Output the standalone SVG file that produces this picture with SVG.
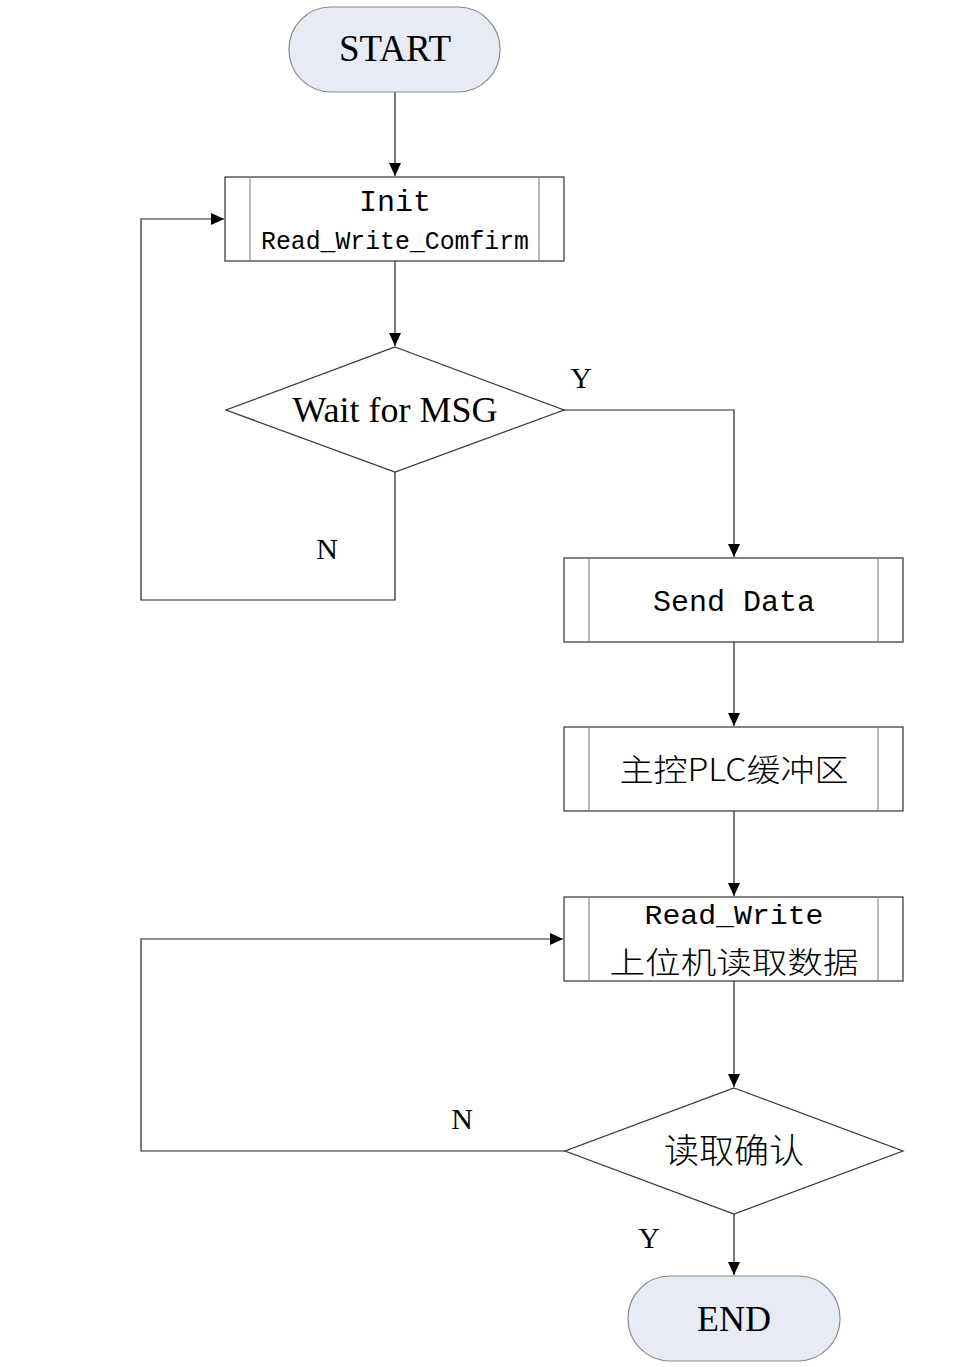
<svg xmlns="http://www.w3.org/2000/svg" width="963" height="1367" viewBox="0 0 963 1367">
<style>
.term{fill:#e6ebf5;stroke:#8a8a8a;stroke-width:1.2}
.box{fill:#fff;stroke:#333;stroke-width:1.2}
.inner{stroke:#8a8a8a;stroke-width:1.2}
.dia{fill:#fff;stroke:#333;stroke-width:1.2}
.conn{fill:none;stroke:#222;stroke-width:1.2}
.serif{font-family:"Liberation Serif","Noto Sans CJK SC",serif;fill:#000}
.mono{font-family:"Liberation Mono","Noto Sans CJK SC",monospace;fill:#000}
.cjk{font-family:"Noto Sans CJK SC","Liberation Serif",serif;fill:#000;font-weight:300}
</style>
<defs>
<marker id="arr" markerWidth="14" markerHeight="14" refX="13" refY="6" orient="auto" markerUnits="userSpaceOnUse">
<path d="M0,0 L13,6 L0,12 Z" fill="#000"/>
</marker>
</defs>
<rect width="963" height="1367" fill="#fff"/>
<g id="connectors">
<path class="conn" d="M395,92 V176" marker-end="url(#arr)"/>
<path class="conn" d="M395,261 V346" marker-end="url(#arr)"/>
<path class="conn" d="M564,410 H734 V557" marker-end="url(#arr)"/>
<path class="conn" d="M395,472 V600 H141 V219 H224" marker-end="url(#arr)"/>
<path class="conn" d="M734,642 V726" marker-end="url(#arr)"/>
<path class="conn" d="M734,811 V896" marker-end="url(#arr)"/>
<path class="conn" d="M734,981 V1087" marker-end="url(#arr)"/>
<path class="conn" d="M565,1151 H141 V939 H563" marker-end="url(#arr)"/>
<path class="conn" d="M734,1214 V1275" marker-end="url(#arr)"/>
<text class="serif" x="581" y="388" font-size="30" text-anchor="middle">Y</text>
<text class="serif" x="327" y="559" font-size="30" text-anchor="middle">N</text>
<text class="serif" x="462" y="1129" font-size="30" text-anchor="middle">N</text>
<text class="serif" x="649" y="1248" font-size="30" text-anchor="middle">Y</text>
</g>
<g id="start">
<rect class="term" x="289" y="7" width="211" height="85" rx="42" ry="42"/>
<text class="serif" x="395" y="61" font-size="37" text-anchor="middle">START</text>
</g>
<g id="init">
<rect class="box" x="225" y="177" width="339" height="84"/>
<line class="inner" x1="250" y1="177" x2="250" y2="261"/>
<line class="inner" x1="539" y1="177" x2="539" y2="261"/>
<text class="mono" x="395" y="211" font-size="30" text-anchor="middle">Init</text>
<text class="mono" x="395" y="249" font-size="25" text-anchor="middle" textLength="268" lengthAdjust="spacingAndGlyphs">Read_Write_Comfirm</text>
</g>
<g id="wait">
<polygon class="dia" points="395,347 564,410 395,472 226,410"/>
<text class="serif" x="395" y="422" font-size="36" text-anchor="middle">Wait for MSG</text>
</g>
<g id="send">
<rect class="box" x="564" y="558" width="339" height="84"/>
<line class="inner" x1="589" y1="558" x2="589" y2="642"/>
<line class="inner" x1="878" y1="558" x2="878" y2="642"/>
<text class="mono" x="734" y="611" font-size="30" text-anchor="middle">Send Data</text>
</g>
<g id="buffer">
<rect class="box" x="564" y="727" width="339" height="84"/>
<line class="inner" x1="589" y1="727" x2="589" y2="811"/>
<line class="inner" x1="878" y1="727" x2="878" y2="811"/>
<text class="cjk" x="734" y="781" font-size="31" text-anchor="middle" textLength="229" lengthAdjust="spacingAndGlyphs">主控PLC缓冲区</text>
</g>
<g id="readwrite">
<rect class="box" x="564" y="897" width="339" height="84"/>
<line class="inner" x1="589" y1="897" x2="589" y2="981"/>
<line class="inner" x1="878" y1="897" x2="878" y2="981"/>
<text class="mono" x="734" y="924" font-size="28" text-anchor="middle" textLength="179" lengthAdjust="spacingAndGlyphs">Read_Write</text>
<text class="cjk" x="734" y="973" font-size="30" text-anchor="middle" textLength="249" lengthAdjust="spacingAndGlyphs">上位机读取数据</text>
</g>
<g id="confirm">
<polygon class="dia" points="734,1088 903,1151 734,1214 565,1151"/>
<text class="cjk" x="734" y="1163" font-size="34" text-anchor="middle" textLength="140" lengthAdjust="spacingAndGlyphs">读取确认</text>
</g>
<g id="end">
<rect class="term" x="628" y="1276" width="212" height="85" rx="42" ry="42"/>
<text class="serif" x="734" y="1331" font-size="36" text-anchor="middle">END</text>
</g>
</svg>
